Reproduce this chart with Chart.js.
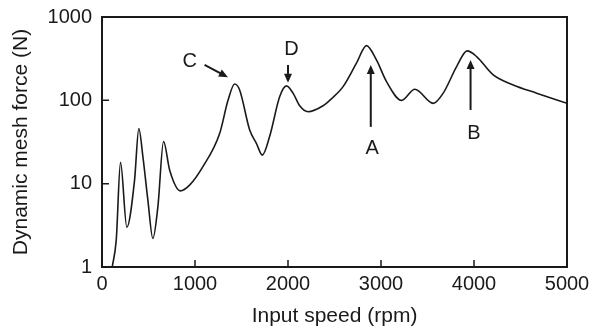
<!DOCTYPE html>
<html>
<head>
<meta charset="utf-8">
<script src="https://cdn.jsdelivr.net/npm/chart.js@4/dist/chart.umd.min.js"></script>
<style>
  html, body { margin: 0; padding: 0; background: #fff; }
  #wrap { width: 592px; height: 330px; position: relative; }
</style>
</head>
<body>
<div id="wrap"><canvas id="c" width="592" height="330"></canvas></div>
<script>
// ---- data ----
const speedRpm = [110, 153, 199, 267, 350, 396, 440, 493, 547, 601, 662, 727, 842, 942, 1085, 1265, 1355, 1426, 1480, 1588, 1660, 1724, 1803, 1911, 1983, 2054, 2126, 2216, 2377, 2470, 2592, 2736, 2844, 2951, 3059, 3221, 3364, 3561, 3669, 3813, 3927, 4028, 4207, 4422, 4674, 5000];
const meshForce = [1, 2.1, 18, 3.0, 11, 46, 21, 6.4, 2.2, 5.3, 32, 14.6, 8.2, 9.6, 16, 40, 100, 157, 133, 44, 30.5, 22, 37, 111, 149, 122, 86, 73, 86, 105, 146, 279, 454, 305, 168, 100, 136, 92, 122, 254, 392, 335, 202, 153, 122, 92];
const xTicks = [0, 1000, 2000, 3000, 4000, 5000];
const yTicks = [1, 10, 100, 1000];
// annotation labels (data coordinates)
const noteLabels = ['C', 'D', 'A', 'B'];
const noteTextAt = [[942, 292], [2037, 403], [2904, 26.6], [3999, 40]];
const noteArrowFrom = [[1103, 266], [2000, 266], [2890, 48], [3963, 76.7]];
const noteArrowTo = [[1354, 189], [2000, 163], [2890, 266], [3963, 305]];

const FONT = "'Liberation Sans', Arial, Helvetica, sans-serif";
const INK = '#1a1a1a';

const framePlugin = {
  id: 'frame',
  afterDraw(chart) {
    const {ctx, chartArea: a, scales: {x, y}} = chart;
    ctx.save();
    ctx.strokeStyle = INK;
    ctx.lineWidth = 2;
    ctx.strokeRect(a.left, a.top, a.right - a.left, a.bottom - a.top);
    ctx.lineWidth = 1.5;
    ctx.beginPath();
    x.ticks.forEach(t => {
      const px = x.getPixelForValue(t.value);
      ctx.moveTo(px, a.bottom); ctx.lineTo(px, a.bottom - 7);
    });
    y.ticks.forEach(t => {
      const py = y.getPixelForValue(t.value);
      ctx.moveTo(a.left, py); ctx.lineTo(a.left + 7, py);
    });
    ctx.stroke();
    // annotations
    ctx.fillStyle = INK;
    ctx.font = '20px ' + FONT;
    ctx.textAlign = 'center';
    ctx.textBaseline = 'middle';
    noteLabels.forEach((lab, i) => {
      ctx.fillText(lab, x.getPixelForValue(noteTextAt[i][0]), y.getPixelForValue(noteTextAt[i][1]));
      const x0 = x.getPixelForValue(noteArrowFrom[i][0]), y0 = y.getPixelForValue(noteArrowFrom[i][1]);
      const x1 = x.getPixelForValue(noteArrowTo[i][0]), y1 = y.getPixelForValue(noteArrowTo[i][1]);
      const ang = Math.atan2(y1 - y0, x1 - x0);
      const hl = 9, hw = 4;
      ctx.lineWidth = 2;
      ctx.beginPath();
      ctx.moveTo(x0, y0);
      ctx.lineTo(x1 - Math.cos(ang) * hl * 0.8, y1 - Math.sin(ang) * hl * 0.8);
      ctx.stroke();
      ctx.beginPath();
      ctx.moveTo(x1, y1);
      ctx.lineTo(x1 - Math.cos(ang) * hl - Math.sin(ang) * hw, y1 - Math.sin(ang) * hl + Math.cos(ang) * hw);
      ctx.lineTo(x1 - Math.cos(ang) * hl + Math.sin(ang) * hw, y1 - Math.sin(ang) * hl - Math.cos(ang) * hw);
      ctx.closePath();
      ctx.fill();
    });
    ctx.restore();
  }
};

new Chart(document.getElementById('c'), {
  type: 'line',
  data: {
    datasets: [{
      data: speedRpm.map((v, i) => ({x: v, y: meshForce[i]})),
      borderColor: INK,
      borderWidth: 1.6,
      pointRadius: 0,
      fill: false,
      cubicInterpolationMode: 'monotone'
    }]
  },
  options: {
    responsive: false,
    animation: false,
    devicePixelRatio: 1,
    layout: { padding: { top: 17, right: 25, left: 0, bottom: 0 } },
    plugins: { legend: { display: false }, tooltip: { enabled: false } },
    scales: {
      x: {
        type: 'linear', min: 0, max: 5000,
        afterFit(s) { s.height = 63; s.paddingLeft = 0; s.paddingRight = 0; },
        afterBuildTicks(s) { s.ticks = xTicks.map(v => ({value: v})); },
        grid: { display: false, drawTicks: false },
        border: { display: false },
        ticks: { padding: 5, color: INK, font: { family: FONT, size: 20 }, maxRotation: 0, callback: v => String(v) },
        title: { display: true, text: 'Input speed (rpm)', color: INK, font: { family: FONT, size: 21 }, padding: { top: 0, bottom: 1 } }
      },
      y: {
        type: 'logarithmic', min: 1, max: 1000,
        afterFit(s) { s.width = 102; s.paddingTop = 0; s.paddingBottom = 0; },
        afterBuildTicks(s) { s.ticks = yTicks.map(v => ({value: v})); },
        grid: { display: false, drawTicks: false },
        border: { display: false },
        ticks: { padding: 10, color: INK, font: { family: FONT, size: 20 }, callback: v => String(v) },
        title: { display: true, text: 'Dynamic mesh force (N)', color: INK, font: { family: FONT, size: 21 }, padding: { top: 9, bottom: 0 } }
      }
    }
  },
  plugins: [framePlugin]
});
</script>
</body>
</html>
